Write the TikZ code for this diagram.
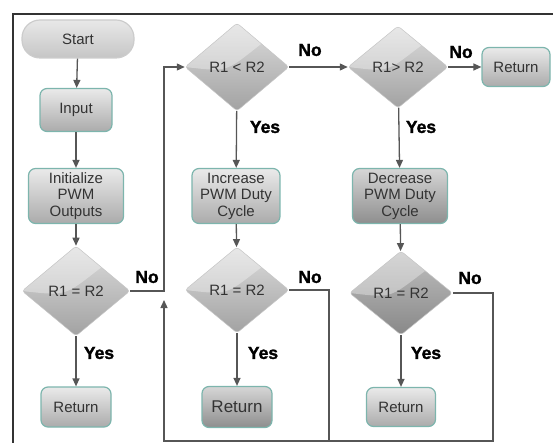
\documentclass[tikz,border=0pt]{standalone}
\usepackage{fontspec}
\setmainfont{Liberation Sans}
\newfontfamily\heavyfont[FakeBold=1.5]{Liberation Sans Bold}
\usetikzlibrary{shapes.geometric,arrows.meta}
\definecolor{linec}{HTML}{565656}
\definecolor{framec}{HTML}{333333}
\definecolor{bordc}{HTML}{7DB5AD}
\definecolor{boxtop}{HTML}{EAEAEA}
\definecolor{boxbot}{HTML}{ABABAB}
\definecolor{darktop}{HTML}{D6D6D6}
\definecolor{darkbot}{HTML}{8E8E8E}
\definecolor{diatop}{HTML}{DCDCDC}
\definecolor{diabot}{HTML}{A2A2A2}
\definecolor{diadtop}{HTML}{C0C0C0}
\definecolor{diadbot}{HTML}{888888}
\definecolor{txt}{HTML}{333333}
\tikzset{
  box/.style={draw=bordc, line width=1.2pt, rounded corners=7pt, top color=boxtop, bottom color=boxbot,
    text=txt, font=\fontsize{15}{16.5}\selectfont, align=center, inner sep=0pt},
  darkbox/.style={box, top color=darktop, bottom color=darkbot},
  dia/.style={diamond, rounded corners=3pt, top color=diatop, bottom color=diabot, draw=gray!45, line width=0.5pt,
    text=txt, font=\fontsize{15}{16.5}\selectfont, minimum width=104pt, minimum height=88pt, inner sep=0pt,
    path picture={\fill[white,opacity=0.35] (path picture bounding box.west)
      .. controls ([yshift=-6pt]path picture bounding box.center) and ([xshift=-14pt,yshift=-4pt]path picture bounding box.center)
      .. (path picture bounding box.north east) -- (path picture bounding box.north west) -- cycle;}},
  darkdia/.style={dia, top color=diadtop, bottom color=diadbot},
  lbl/.style={font=\heavyfont\fontsize{17.5}{20}\selectfont, text=black, inner sep=0pt},
  ln/.style={draw=linec, line width=1.3pt},
  arr/.style={ln, -{Triangle[length=8pt,width=7pt]}}
}
\begin{document}
\begin{tikzpicture}[x=1pt,y=-1pt]
\useasboundingbox (0,0) rectangle (553,443);
% frame
\draw[framec, line width=1.5pt] (13,443) -- (13,14) -- (553,14);
% column 1
\node[box, draw=gray!40, top color=gray!18, bottom color=gray!45, rounded corners=18pt, minimum width=112pt, minimum height=38pt] (start) at (78,39) {Start};
\node[box, minimum width=72pt, minimum height=43pt] (input) at (76,110) {Input};
\node[box, minimum width=95pt, minimum height=55pt] (init) at (76,196) {Initialize\\PWM\\Outputs};
\node[dia, minimum width=108pt, minimum height=90pt] (d1) at (76,291) {R1 = R2};
\node[box, minimum width=70pt, minimum height=40pt] (r1) at (76,407) {Return};
% column 2
\node[dia] (d2) at (237,67) {R1 < R2};
\node[box, minimum width=88pt, minimum height=55pt] (inc) at (236,196) {Increase\\PWM Duty\\Cycle};
\node[dia, minimum height=86pt] (d3) at (237,290) {R1 = R2};
\node[darkbox, minimum width=70pt, minimum height=41pt, font=\fontsize{17}{18}\selectfont] (r2) at (237,407) {Return};
% column 3
\node[dia, minimum width=100pt, minimum height=82pt] (d4) at (398,67) {R1> R2};
\node[darkbox, minimum width=95pt, minimum height=55pt] (dec) at (400,196) {Decrease\\PWM Duty\\Cycle};
\node[darkdia, minimum width=103pt, minimum height=84pt] (d5) at (401,293) {R1 = R2};
\node[box, minimum width=69pt, minimum height=39pt] (r3) at (401,407) {Return};
% top right
\node[box, minimum width=68pt, minimum height=39pt] (r4) at (516,67) {Return};
% loop coordinates
\coordinate (lb) at (164,441);
\coordinate (lc) at (329,441);
\coordinate (ld) at (493,441);
\coordinate (ltip) at (164,300);
% connectors
\draw[arr] (start) -- (input);
\draw[arr] (input) -- (init);
\draw[arr] (init) -- (d1);
\draw[arr] (d1) -- (r1);
\draw[arr] (d1.east) -- (d1.east -| lb) |- (d2.west);
\draw[arr] (d2) -- (inc);
\draw[arr] (inc) -- (d3);
\draw[arr] (d3) -- (r2);
\draw[arr] (d2.east) -- (d4.west);
\draw[arr] (d4.east) -- (r4.west);
\draw[arr] (d4) -- (dec);
\draw[arr] (dec) -- (d5);
\draw[arr] (d5) -- (r3);
\draw[arr] (d3.east) -| (lc) -- (lb) -- (ltip);
\draw[ln] (d5.east) -| (ld) -- (lc);
% labels
\node[lbl] (y1) at (99,353) {Yes};
\node[lbl] (n1) at (147,277) {No};
\node[lbl] (y2) at (265,127) {Yes};
\node[lbl] (n2) at (310,50) {No};
\node[lbl] (n4) at (461,52) {No};
\node[lbl] (y4) at (421,127) {Yes};
\node[lbl] (y3) at (263,353) {Yes};
\node[lbl] (n3) at (310,277) {No};
\node[lbl] (y5) at (426,353) {Yes};
\node[lbl] (n5) at (470,278) {No};
\end{tikzpicture}
\end{document}
